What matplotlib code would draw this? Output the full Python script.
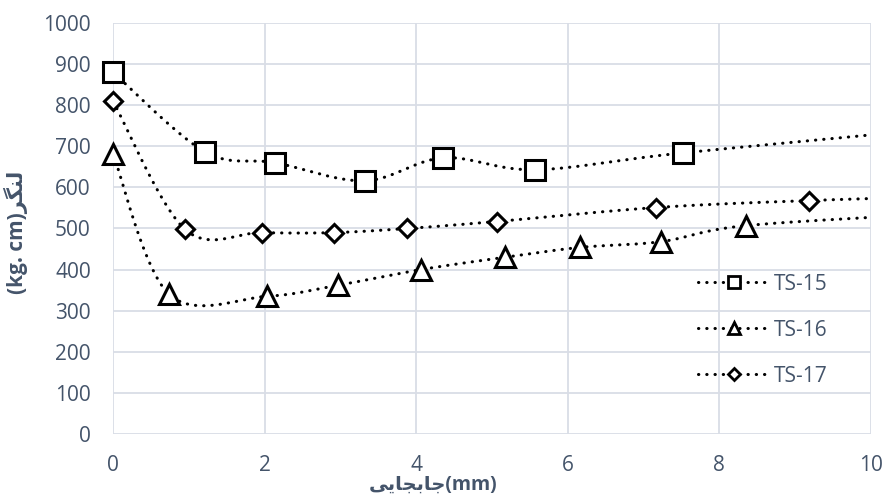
import numpy as np
import matplotlib
matplotlib.use('Agg')
import matplotlib.pyplot as plt
from matplotlib.lines import Line2D

plt.rcParams['font.family'] = ['Open Sans', 'DejaVu Sans']

# data; last point of each series lies beyond the x-limit
ts15_x = [0.0, 1.21, 2.14, 3.32, 4.36, 5.57, 7.52, 11.0]
ts15_y = [880, 687, 660, 616, 672, 643, 684, 745]
ts16_x = [0.0, 0.74, 2.03, 2.97, 4.06, 5.17, 6.16, 7.23, 8.35, 11.0]
ts16_y = [682, 340, 335, 362, 400, 430, 454, 468, 507, 537]
ts17_x = [0.0, 0.95, 1.96, 2.91, 3.88, 5.06, 7.16, 9.18, 11.0]
ts17_y = [810, 498, 490, 490, 500, 517, 551, 568, 578]

series_names = ['TS-15', 'TS-16', 'TS-17']
x_ticks = [0, 2, 4, 6, 8, 10]
y_ticks = list(range(0, 1001, 100))

xlabel_text = '\ufbfd\ufbfe\ufe8e\ufea0\ufe91\ufe8e\ufe9f(mm)'   # جابجایی(mm)
ylabel_text = '(kg. cm)\ufeae\ufb95\ufee8\ufedf'                  # لنگر(kg. cm)

TXT = '#44546A'


def smooth(x, y, n=40):
    P = np.column_stack([x, y]).astype(float)
    E = np.vstack([P[0], P, P[-1]])
    out = []
    t = np.linspace(0, 1, n)[:, None]
    for i in range(1, len(E) - 2):
        p0, p1, p2, p3 = E[i - 1], E[i], E[i + 1], E[i + 2]
        c1 = p1 + (p2 - p0) / 6
        c2 = p2 - (p3 - p1) / 6
        seg = (1 - t) ** 3 * p1 + 3 * (1 - t) ** 2 * t * c1 + 3 * (1 - t) * t ** 2 * c2 + t ** 3 * p2
        out.append(seg if i == 1 else seg[1:])
    return np.vstack(out)


fig = plt.figure(figsize=(8.86, 5.04), dpi=100)
ax = fig.add_axes([113 / 886, 1 - 434 / 504, (871 - 113) / 886, (434 - 23) / 504])

dot = (0, (0.1, 2.6))
markers = ['s', '^', 'D']
msizes = [14, 14, 9.5]
data = [(ts15_x, ts15_y), (ts16_x, ts16_y), (ts17_x, ts17_y)]

for (xs, ys), m, ms in zip(data, markers, msizes):
    c = smooth(xs, ys)
    ax.plot(c[:, 0], c[:, 1], color='black', lw=2.2, linestyle=dot,
            dash_capstyle='round', zorder=3)
    xs_a = np.array(xs)
    ys_a = np.array(ys)
    keep = xs_a <= 10
    ax.plot(xs_a[keep], ys_a[keep], linestyle='none', marker=m, ms=ms,
            mfc='white', mec='black', mew=2.2, zorder=4, clip_on=False)

ax.set_xlim(0, 10)
ax.set_ylim(0, 1000)
ax.set_xticks(x_ticks)
ax.set_yticks(y_ticks)
ax.grid(True, color='#D9DDE6', lw=1.3)
ax.set_axisbelow(True)
for s in ax.spines.values():
    s.set_visible(False)
ax.tick_params(length=0, labelsize=15, colors=TXT)
ax.tick_params(axis='y', pad=16)
ax.tick_params(axis='x', pad=15)

ax.set_xlabel(xlabel_text, fontsize=14, fontweight='bold', color=TXT)
ax.xaxis.set_label_coords((433 - 113) / 758, -0.098)
ax.set_ylabel(ylabel_text, fontsize=15, fontweight='bold', color=TXT)
ax.yaxis.set_label_coords(-0.112, 0.49)

handles = [Line2D([], [], color='black', lw=2.2, linestyle=dot, dash_capstyle='round',
                  marker=m, ms=ms * 0.62, mfc='white', mec='black', mew=2.0)
           for m, ms in zip(markers, msizes)]
leg = ax.legend(handles, series_names, loc='upper left', bbox_to_anchor=(0.772, 0.390),
                frameon=False, fontsize=15, handlelength=3.4, handletextpad=0.25,
                labelspacing=1.2, borderpad=0, borderaxespad=0)
for t in leg.get_texts():
    t.set_color(TXT)

fig.savefig('out.png', dpi=100)
